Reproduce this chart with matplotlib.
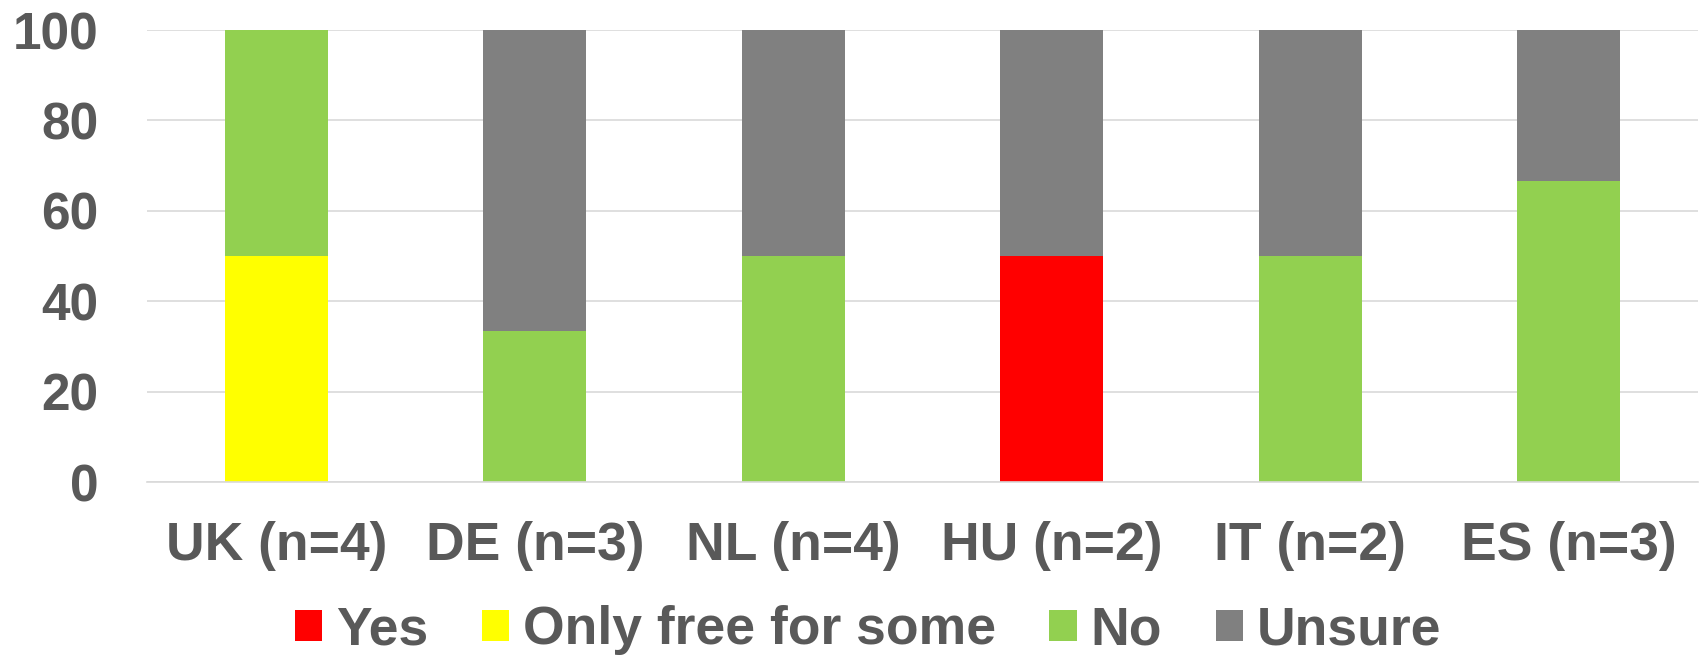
import matplotlib
matplotlib.use("Agg")
import numpy as np
from matplotlib import pyplot as plt

countries = ["UK (n=4)", "DE (n=3)", "NL (n=4)", "HU (n=2)", "IT (n=2)", "ES (n=3)"]
yes = [0, 0, 0, 50, 0, 0]
only_free = [50, 0, 0, 0, 0, 0]
no = [50, 33.3, 50, 0, 50, 66.7]
unsure = [0, 66.7, 50, 50, 50, 33.3]

series = [
    ("Yes", yes, "#FF0000"),
    ("Only free for some", only_free, "#FFFF00"),
    ("No", no, "#92D050"),
    ("Unsure", unsure, "#808080"),
]

text_color = "#595959"
grid_color = "#D9D9D9"
plt.rcParams["font.family"] = ["Liberation Sans", "DejaVu Sans"]
plt.rcParams["font.weight"] = "bold"

fig = plt.figure(figsize=(17.04, 6.56), dpi=100)
ax = fig.add_axes([147 / 1704, 1 - 482 / 656, (1698 - 147) / 1704, 452 / 656])

x = np.arange(len(countries))
bottom = np.zeros(len(countries))
for label, values, color in series:
    ax.bar(x, values, width=0.40, bottom=bottom, color=color, label=label, zorder=2)
    bottom += np.array(values)

ax.set_xlim(-0.5, len(countries) - 0.5)
ax.set_ylim(0, 100)
ax.set_yticks(range(0, 101, 20))
ax.set_xticks(x)
ax.set_xticklabels(countries)

ax.yaxis.grid(True, color=grid_color, linewidth=1.2, zorder=0)
ax.set_axisbelow(True)
for side in ["top", "right", "left"]:
    ax.spines[side].set_visible(False)
ax.spines["bottom"].set_color(grid_color)
ax.spines["bottom"].set_linewidth(1.2)

ax.tick_params(axis="both", length=0, labelcolor=text_color)
ax.tick_params(axis="y", pad=35, labelsize=37)
ax.tick_params(axis="x", pad=28, labelsize=38.5)

leg = fig.legend(
    loc="center",
    bbox_to_anchor=(0.5094, 0.0395),
    ncol=4,
    frameon=False,
    fontsize=38.5,
    handlelength=0.51,
    handleheight=0.51,
    handletextpad=0.26,
    columnspacing=1.0,
    borderpad=0,
)
for t in leg.get_texts():
    t.set_color(text_color)

fig.savefig("out.png", dpi=100)
plt.close(fig)
